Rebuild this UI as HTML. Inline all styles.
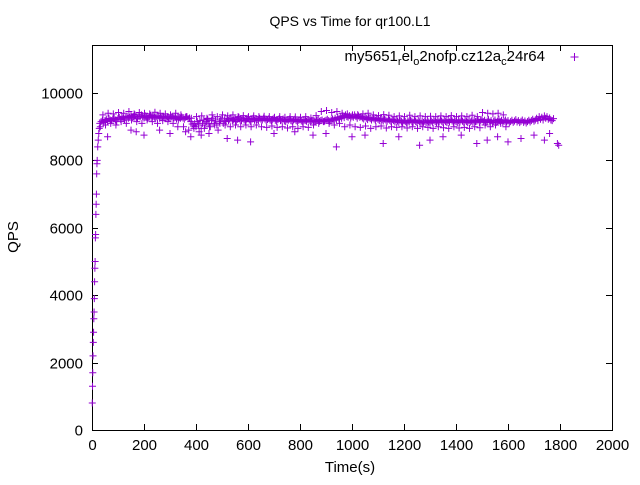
<!DOCTYPE html>
<html><head><meta charset="utf-8"><style>
body{margin:0;background:#fff;width:640px;height:480px;overflow:hidden}
svg text{font-family:"Liberation Sans",sans-serif;fill:#000}
</style></head><body>
<svg id="chart" width="640" height="480" xmlns="http://www.w3.org/2000/svg">
<rect width="640" height="480" fill="#fff"/>
<text x="350" y="26" font-size="14" text-anchor="middle">QPS vs Time for qr100.L1</text>
<text transform="translate(18,237) rotate(-90)" font-size="15" text-anchor="middle">QPS</text>
<text x="350" y="472" font-size="15" text-anchor="middle">Time(s)</text>
<g id="axes"></g>
<g id="marks"></g>
<text x="545" y="61" font-size="15" text-anchor="end">my5651<tspan font-size="11" dy="4">r</tspan><tspan dy="-4">el</tspan><tspan font-size="11" dy="4">o</tspan><tspan dy="-4">2nofp.cz12a</tspan><tspan font-size="11" dy="4">c</tspan><tspan dy="-4">24r64</tspan></text>
<path d="M570.5 57h8M574.5 53v8" stroke="#9400d3" stroke-width="1"/>
</svg>
<script>
const rampTimes=[1,2,3,4,5,6,7,8,9,10,11,12,13,14,15,16,17,18,19,20,22,24,26,28];
const rampQps=[800,1300,1700,2200,2600,2900,3300,3500,3900,4400,4800,5000,5700,5800,6400,6700,7000,7600,7900,8000,8400,8600,8800,8950];
const steadyStart=30;
const steadyStep=5;
const steadyQps=[9100,9150,9200,9120,9180,9220,9150,9250,9200,9180,9230,9260,9200,9150,9240,9280,9220,9300,9250,9200,9270,9310,9250,9280,9330,9260,9300,9350,9280,9240,9310,9290,9350,9300,9260,9320,9280,9250,9300,9340,9270,9310,9280,9260,9300,9320,9250,9290,9270,9310,
9280,9250,9300,9270,9240,9290,9310,9260,9280,9230,9300,9270,9250,9290,9260,9220,9280,9300,9240,9260,9150,9080,9020,9100,9000,9150,9050,9180,8950,9100,9200,9050,9150,9220,9100,9000,9180,9250,9100,9200,9050,8900,9150,9200,9250,9100,9200,9150,9250,9180,
9220,9250,9180,9200,9260,9150,9220,9280,9200,9180,9240,9200,9170,9230,9260,9200,9150,9220,9250,9190,9240,9210,9180,9250,9220,9200,9260,9230,9180,9210,9240,9200,9170,9220,9250,9190,9160,9210,9240,9180,9200,9230,9170,9150,9210,9190,9230,9180,9160,9200,
9220,9180,9150,9190,9210,9170,9140,9200,9180,9160,9210,9190,9150,9180,9200,9170,9140,9190,9210,9160,9180,9200,9150,9170,9190,9220,9180,9160,9200,9230,9190,9250,9200,9280,9230,9300,9250,9320,9270,9350,9300,9280,9330,9260,9310,9280,9350,9300,9250,9320,
9280,9300,9260,9230,9290,9250,9210,9270,9240,9200,9260,9230,9190,9250,9220,9180,9240,9210,9170,9230,9200,9160,9220,9190,9150,9210,9180,9140,9200,9170,9130,9190,9160,9120,9180,9150,9110,9170,9140,9200,9160,9130,9190,9150,9120,9180,9140,9110,9170,9130,
9160,9120,9180,9140,9110,9170,9130,9190,9150,9120,9180,9140,9200,9160,9130,9190,9150,9120,9180,9140,9210,9170,9130,9190,9150,9120,9180,9140,9200,9160,9130,9190,9150,9120,9180,9140,9170,9130,9190,9150,9160,9200,9130,9180,9220,
9150,9190,9120,9170,9210,9140,9180,9110,9160,9200,9130,9170,9220,9150,9190,9120,9160,9200,9140,9180,9110,9150,9190,9130,9170,9210,9140,9180,9120,9160,9200,9130,9170,9110,9150,9190,9140,9180,9220,9160,9200,9250,9180,9300,9220,9280,9200,9320,9250,9300,9220,9260,9200,9180,9240];
const jitterStart=32;
const jitterStep=10;
const jitterQps=[9000,9350,9050,9400,9100,9380,9050,9420,9150,9400,9100,9450,9200,9380,9150,9420,9100,9400,9200,9380,9150,9430,9100,9400,9180,9380,9150,9350,9100,9400,
9200,9350,9000,9300,8900,9250,8950,9300,8850,9320,8950,9250,9000,9350,9050,9300,9100,9350,9050,9320,9000,9350,9050,9300,9000,9330,9050,9300,9000,9320,
9050,9300,9000,9310,8980,9300,9020,9280,8980,9300,9000,9280,8960,9300,9000,9290,8950,9280,9000,9300,8980,9260,9050,9330,9100,9450,9150,9480,9100,9420,
9050,9450,9100,9400,9000,9380,9050,9350,9000,9360,8980,9380,9020,9400,8950,9350,9000,9330,9020,9360,8960,9340,9000,9300,8980,9320,9000,9300,8960,9340,
9000,9300,8950,9320,9000,9300,8980,9310,8950,9300,9000,9320,8970,9300,8950,9330,9000,9300,8960,9320,8980,9300,8950,9340,9000,9300,8970,9420,9050,9400,
9000,9380,9050,9400,9100,9350,9000];
const outlierTimes=[60,150,170,200,260,300,330,360,380,420,450,520,560,610,700,780,850,900,940,1000,1050,1120,1180,1260,1300,1350,1420,1480,1520,1560,1600,1650,1700,1740,1760,1790,1795];
const outlierQps=[8700,8900,8850,8750,8900,8800,9000,8850,8700,8750,8800,8650,8600,8550,8800,8850,8750,8800,8400,8700,8750,8500,8700,8450,8600,8700,8750,8500,8600,8700,8550,8650,8750,8600,8800,8500,8450];
const xTicks=[0,200,400,600,800,1000,1200,1400,1600,1800,2000];
const yTicks=[0,2000,4000,6000,8000,10000];
const L=92,R=612,T=45,B=430;
const xs=v=>L+(v/2000)*(R-L);
const ys=v=>B-(v/10000)*(B-93);
const NS='http://www.w3.org/2000/svg';
const ax=document.getElementById('axes');
function mk(tag,attrs,parent){const e=document.createElementNS(NS,tag);for(const k in attrs)e.setAttribute(k,attrs[k]);parent.appendChild(e);return e;}
const frame=mk('rect',{x:L+.5,y:T+.5,width:R-L,height:B-T,fill:'none',stroke:'#000','stroke-width':1},ax);


xTicks.forEach(t=>{const x=Math.round(xs(t))+.5;
 const p=mk('path',{d:`M${x} ${B}v-6M${x} ${T}v6`,stroke:'#000'},ax);
 
 
 const tx=mk('text',{x:x,y:B+20,'font-size':15,'text-anchor':'middle'},ax);tx.textContent=t;
 
 });
yTicks.forEach(t=>{const y=Math.round(ys(t))+.5;
 const p=mk('path',{d:`M${L} ${y}h6M${R} ${y}h-6`,stroke:'#000'},ax);
 
 
 const tx=mk('text',{x:L-9,y:y+5,'font-size':15,'text-anchor':'end'},ax);tx.textContent=t;
 
 });
const pts=[];
rampTimes.forEach((t,i)=>pts.push([t,rampQps[i]]));
steadyQps.forEach((q,i)=>pts.push([steadyStart+i*steadyStep,q]));
jitterQps.forEach((q,i)=>pts.push([jitterStart+i*jitterStep,q]));
outlierTimes.forEach((t,i)=>pts.push([t,outlierQps[i]]));
let d='';
pts.forEach(([t,q])=>{const x=xs(t),y=ys(q);d+=`M${x-3.5} ${y}h7M${x} ${y-3.5}v7`;});
const mp=mk('path',{d:d,stroke:'#9400d3','stroke-width':1,fill:'none'},document.getElementById('marks'));


</script>
</body></html>
